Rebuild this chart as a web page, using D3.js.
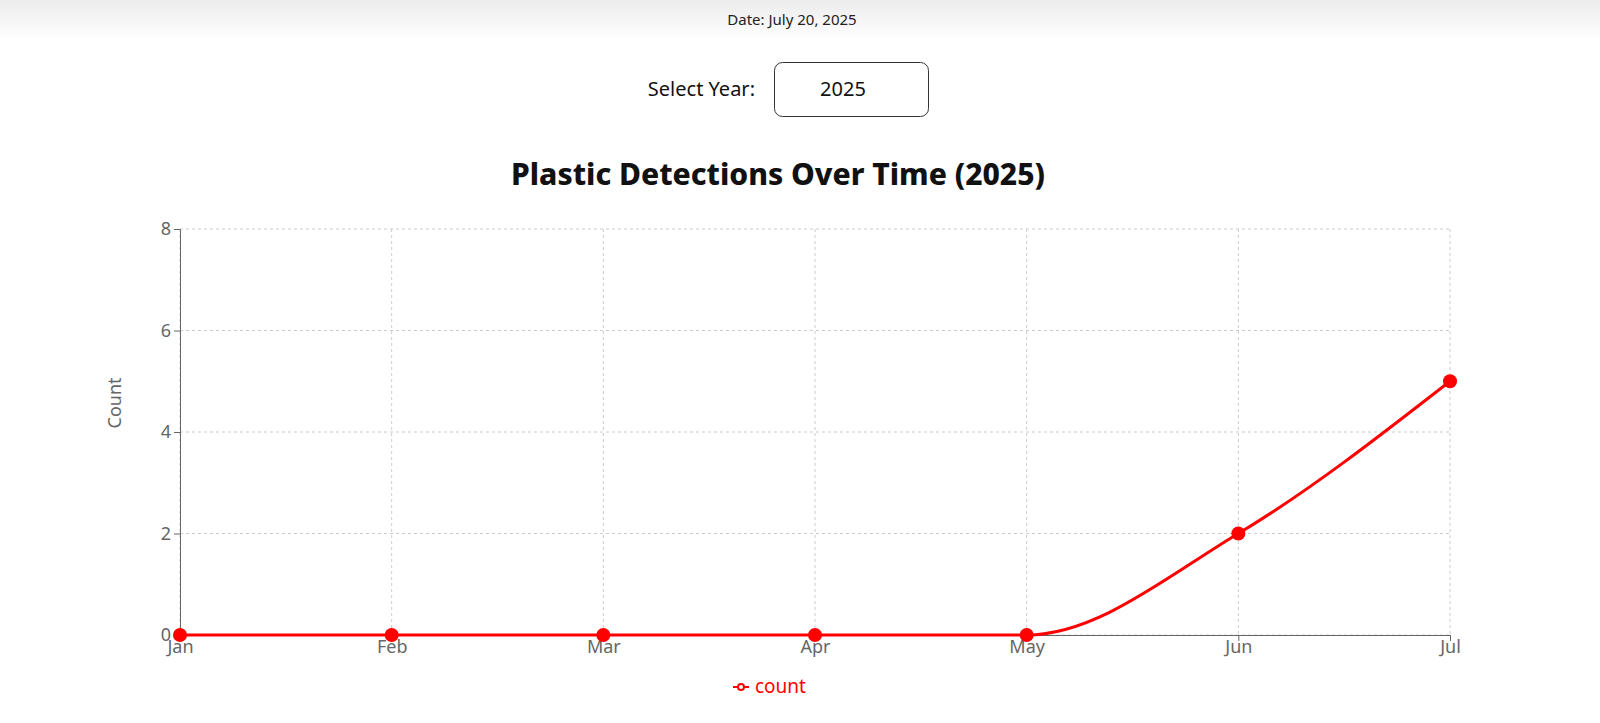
<!DOCTYPE html><html><head><meta charset="utf-8">
<script src="https://cdn.jsdelivr.net/npm/d3@7"></script>
<style>
body{margin:0;width:1600px;height:723px;background:#fff;font-family:"Noto Sans",Inter,sans-serif;overflow:hidden}
.top{position:absolute;left:0;top:0;width:1600px;height:110px;background:linear-gradient(#ececec,#fff 40px,#fff)}
</style></head><body><div class="top"></div>
<svg id="c" width="1600" height="723" style="position:absolute;left:0;top:0"></svg>
<script>
const months=["Jan","Feb","Mar","Apr","May","Jun","Jul"];
const counts=[0,0,0,0,0,2,5];
const yTicks=[0,2,4,6,8];
const svg=d3.select("#c");
svg.append("text").attr("x",792).attr("y",25).attr("text-anchor","middle").attr("font-size",15).attr("fill","#222").text("Date: July 20, 2025");
svg.append("text").attr("x",755).attr("y",96).attr("text-anchor","end").attr("font-size",20).attr("fill","#111").text("Select Year:");
svg.append("rect").attr("x",774.5).attr("y",62.5).attr("width",154).attr("height",54).attr("rx",8).attr("fill","#fff").attr("stroke","#333");
svg.append("text").attr("x",843).attr("y",96).attr("text-anchor","middle").attr("font-size",20).attr("fill","#111").text("2025");
svg.append("text").attr("x",778).attr("y",185).attr("text-anchor","middle").attr("font-size",30).attr("font-weight","800").attr("fill","#111").text("Plastic Detections Over Time (2025)");
const x=d3.scalePoint().domain(months).range([180,1450]);
const y=d3.scaleLinear().domain([0,8]).range([635,229]);
const g=svg.append("g");
g.selectAll(".hg").data(yTicks).join("line").attr("x1",180).attr("x2",1450).attr("y1",d=>y(d)).attr("y2",d=>y(d)).attr("stroke","#ccc").attr("stroke-dasharray","3 3");
g.selectAll(".vg").data(months).join("line").attr("x1",d=>x(d)).attr("x2",d=>x(d)).attr("y1",229).attr("y2",635).attr("stroke","#ccc").attr("stroke-dasharray","3 3");
const ya=svg.append("g").attr("transform","translate(180,0)").call(d3.axisLeft(y).tickValues(yTicks).tickSize(6).tickFormat(d3.format("d")));
const xa=svg.append("g").attr("transform","translate(0,635)").call(d3.axisBottom(x).tickSize(6));
[ya,xa].forEach(a=>{a.selectAll("path,line").attr("stroke","#666");a.selectAll("text").attr("fill","#666").attr("font-size",18).attr("font-family","Noto Sans,sans-serif");});
xa.selectAll("text").attr("dy","0.5em");
svg.append("text").attr("transform","translate(121,403) rotate(-90)").attr("text-anchor","middle").attr("font-size",18).attr("fill","#666").text("Count");
const data=months.map((m,i)=>({m,v:counts[i]}));
svg.append("path").datum(data).attr("d",d3.line().x(d=>x(d.m)).y(d=>y(d.v)).curve(d3.curveMonotoneX)).attr("fill","none").attr("stroke","red").attr("stroke-width",3);
svg.selectAll(".pt").data(data).join("circle").attr("cx",d=>x(d.m)).attr("cy",d=>y(d.v)).attr("r",7).attr("fill","red");
const lg=svg.append("g").attr("transform","translate(733,687)");
lg.append("line").attr("x1",0).attr("x2",16).attr("stroke","red").attr("stroke-width",2);
lg.append("circle").attr("cx",8).attr("r",3).attr("fill","#fff").attr("stroke","red").attr("stroke-width",2);
lg.append("text").attr("x",22).attr("y",6).attr("font-size",19).attr("fill","red").text("count");
</script></body></html>
